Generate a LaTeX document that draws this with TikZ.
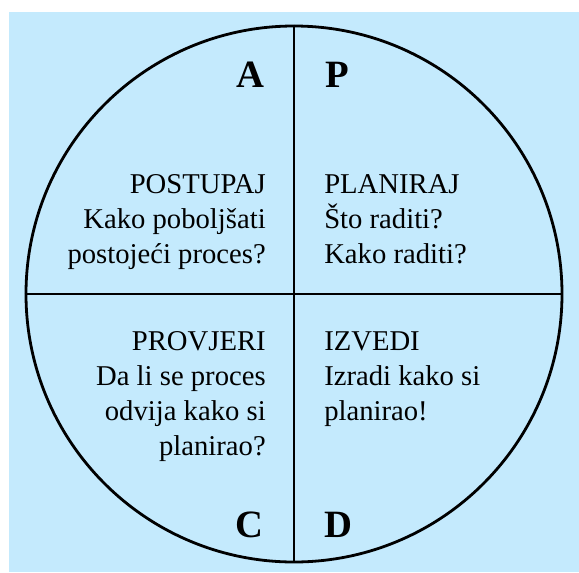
\documentclass[tikz,border=0pt]{standalone}
\usepackage{fontspec}
\setmainfont{Liberation Serif}
\usetikzlibrary{positioning}
\definecolor{skyfill}{RGB}{196,234,253}

\begin{document}
\begin{tikzpicture}[x=0.75pt, y=-0.75pt,
  quad/.style={font=\fontsize{21.5}{26.25}\selectfont, inner sep=0pt},
  letter/.style={font=\fontsize{29}{30}\selectfont\bfseries, inner sep=0pt},
  split/.style={line width=2.1pt, black}]
\useasboundingbox (0,0) rectangle (579,572);
\fill[skyfill] (9,12) rectangle (579,572);
\node[circle, draw, split, inner sep=0pt, minimum size=402pt] (ring) at (294,294) {};
\draw[split] (ring.north) -- (ring.south);
\draw[split] (ring.west) -- (ring.east);
% quadrant letters
\node[letter, anchor=base east] (lA) at (265,87) {A};
\node[letter, anchor=base west] (lP) at (325,87) {P};
\node[letter, anchor=base east] (lC) at (264,537) {C};
\node[letter, anchor=base west] (lD) at (324,537) {D};
% quadrant texts (base = last line)
\node[quad, align=right, anchor=base east] (act) at (266,263) {POSTUPAJ\\Kako poboljšati\\postojeći proces?};
\node[quad, align=left, anchor=base west] (plan) at (324,263) {PLANIRAJ\\Što raditi?\\Kako raditi?};
\node[quad, align=right, anchor=base east] (check) at (266,455) {PROVJERI\\Da li se proces\\odvija kako si\\planirao?};
\node[quad, align=left, anchor=base west] (do) at (324,420) {IZVEDI\\Izradi kako si\\planirao!};
\end{tikzpicture}
\end{document}
